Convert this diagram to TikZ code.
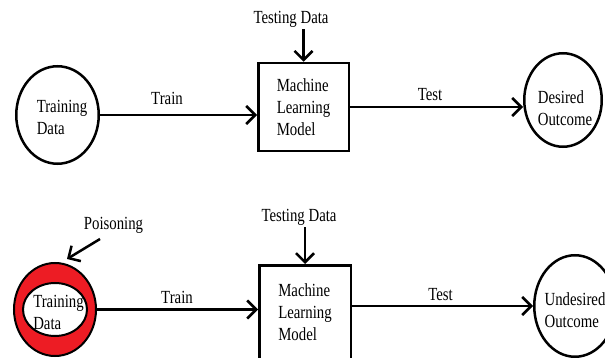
\documentclass[tikz,border=0pt]{standalone}
\usepackage{fontspec}
\setmainfont{Liberation Serif}[FakeStretch=0.8]
\usetikzlibrary{shapes.geometric,arrows.meta,calc}
\definecolor{ringred}{RGB}{237,28,36}
\begin{document}
\begin{tikzpicture}[x=1pt,y=-1pt,
  every node/.style={font=\fontsize{18.5}{22}\selectfont, inner sep=0pt},
  oval/.style={ellipse, draw, line width=2.5pt},
  txt/.style={align=left},
  mlbox/.style={rectangle, draw, line width=2.5pt, align=left},
  arr/.style={line width=2.5pt, -{Straight Barb[length=9pt,width=18pt]}}]
\useasboundingbox (0,0) rectangle (605,358);

% ---------- top row ----------
\node[oval, minimum width=82.5pt, minimum height=97.5pt] (td1) at (57.5,115) {};
\node[txt] (td1t) at (62,117) {Training\\Data};
\node[mlbox, minimum width=90.5pt, minimum height=88pt] (ml1) at (303.5,107) {Machine\\Learning\\Model};
\node[oval, minimum width=77.5pt, minimum height=93.5pt] (do) at (563,100) {};
\node[txt] (dot) at (565,108) {Desired\\Outcome};
\node (tr1) at (167,98) {Train};
\node (te1) at (430,95) {Test};
\node (tdt1) at (291,19) {Testing Data};

\draw[arr] (td1.east) -- (td1.east -| ml1.west);
\draw[arr] (ml1.east) -- (ml1.east -| do.west);
\draw[arr] (ml1.north |- tdt1.south) ++(0,2) -- (ml1.north);

% ---------- bottom row ----------
\node[ellipse, draw, line width=2pt, fill=ringred, minimum width=82pt, minimum height=93pt] (ring) at (55,309.5) {};
\node[ellipse, draw, line width=2pt, fill=white, minimum width=64pt, minimum height=53pt] (ringin) at (55,309.5) {};
\node[txt] (td2t) at (58.5,312.5) {Training\\Data};
\node[mlbox, minimum width=91.5pt, minimum height=93.5pt] (ml2) at (305,312) {Machine\\Learning\\Model};
\node[oval, minimum width=81.5pt, minimum height=101.5pt] (ud) at (575,306) {};
\node[txt] (udt) at (575,310) {Undesired\\Outcome};
\node (tr2) at (177,297) {Train};
\node (te2) at (440.5,295) {Test};
\node (tdt2) at (299,217) {Testing Data};
\node (pois) at (113.5,225) {Poisoning};
\coordinate (pstart) at (100,239);
\coordinate (pend) at (67,259);

\draw[arr] (ring.east) -- (ring.east -| ml2.west);
\draw[arr] ([yshift=6pt]ml2.east) -- ([yshift=6pt]ml2.east -| ud.west);
\draw[arr] (ml2.north |- tdt2.south) ++(0,2) -- (ml2.north);
\draw[arr] (pstart) -- (pend);
\end{tikzpicture}
\end{document}
